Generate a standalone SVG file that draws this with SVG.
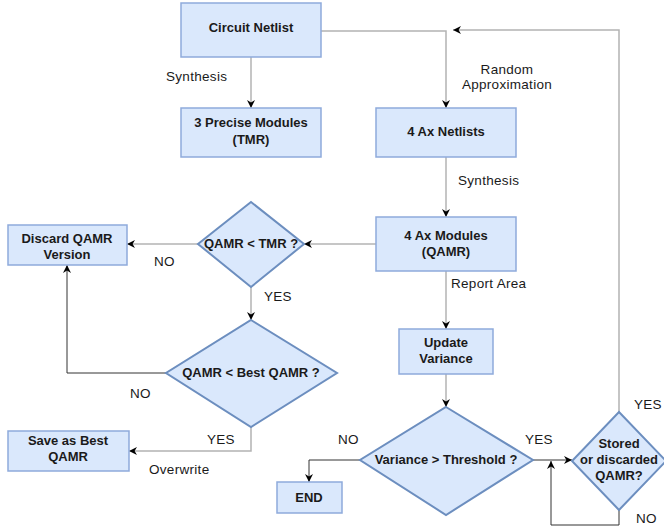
<svg xmlns="http://www.w3.org/2000/svg" width="664" height="527" viewBox="0 0 664 527">
<style>
.box{fill:#dae8fc;stroke:#8eaadb;stroke-width:1.5}
.dia{fill:#dae8fc;stroke:#6c8ebf;stroke-width:2}
.t{font-family:"Liberation Sans",Arial,sans-serif;font-size:13px;font-weight:bold;fill:#1a1a1a;text-anchor:middle}
.l{font-family:"Liberation Sans",Arial,sans-serif;font-size:13.5px;letter-spacing:0.3px;fill:#1a1a1a}
.g{fill:none;stroke:#b3b3b3;stroke-width:1.5}
.k{fill:none;stroke:#333;stroke-width:1}
</style>
<defs>
<marker id="a" viewBox="0 0 10 10" refX="10" refY="5" markerWidth="8" markerHeight="8" markerUnits="userSpaceOnUse" orient="auto">
<path d="M0,0 L10,5 L0,10 L3,5 z" fill="#000"/>
</marker>
</defs>
<rect width="664" height="527" fill="#fff"/>
<g id="connectors">
<path class="g" d="M251,57 V108" marker-end="url(#a)"/>
<path class="g" d="M321,31 H446 V108" marker-end="url(#a)"/>
<path class="g" d="M446,157 V217" marker-end="url(#a)"/>
<path class="g" d="M376,244 H304" marker-end="url(#a)"/>
<path class="g" d="M198,244 H127" marker-end="url(#a)"/>
<path class="g" d="M251,287 V320" marker-end="url(#a)"/>
<path class="k" d="M166,373 H67 V265" marker-end="url(#a)"/>
<path class="g" d="M251,427 V451 H129" marker-end="url(#a)"/>
<path class="g" d="M446,271 V329" marker-end="url(#a)"/>
<path class="g" d="M446,374 V407" marker-end="url(#a)"/>
<path class="k" d="M360,460 H309 V482" marker-end="url(#a)"/>
<path class="k" d="M533,460 H572" marker-end="url(#a)"/>
<path class="g" d="M619,412 V30 H453" marker-end="url(#a)"/>
<path class="k" d="M619,510 V525 H551 V461" marker-end="url(#a)"/>
</g>
<g id="labels">
<text class="l" x="166" y="81">Synthesis</text>
<text class="l" x="507" y="74" text-anchor="middle">Random</text>
<text class="l" x="507" y="89" text-anchor="middle">Approximation</text>
<text class="l" x="458" y="185">Synthesis</text>
<text class="l" x="451" y="288">Report Area</text>
<text class="l" x="154" y="266">NO</text>
<text class="l" x="264" y="301">YES</text>
<text class="l" x="130" y="398">NO</text>
<text class="l" x="207" y="444">YES</text>
<text class="l" x="149" y="474">Overwrite</text>
<text class="l" x="338" y="444">NO</text>
<text class="l" x="525" y="444">YES</text>
<text class="l" x="634" y="409">YES</text>
<text class="l" x="636" y="523">NO</text>
</g>
<g id="circuit-netlist">
<rect class="box" x="181" y="3" width="140" height="54"/>
<text class="t" x="251" y="32">Circuit Netlist</text>
</g>
<g id="precise-modules">
<rect class="box" x="181" y="108" width="140" height="49"/>
<text class="t" x="251" y="127">3 Precise Modules</text>
<text class="t" x="251" y="144">(TMR)</text>
</g>
<g id="ax-netlists">
<rect class="box" x="376" y="108" width="140" height="49"/>
<text class="t" x="446" y="136">4 Ax Netlists</text>
</g>
<g id="ax-modules">
<rect class="box" x="376" y="217" width="140" height="54"/>
<text class="t" x="446" y="240">4 Ax Modules</text>
<text class="t" x="446" y="256">(QAMR)</text>
</g>
<g id="qamr-tmr">
<polygon class="dia" points="251,202 304,244 251,287 198,244"/>
<text class="t" x="251" y="248">QAMR &lt; TMR ?</text>
</g>
<g id="discard">
<rect class="box" x="8" y="225" width="119" height="40"/>
<text class="t" x="67" y="243">Discard QAMR</text>
<text class="t" x="67" y="259">Version</text>
</g>
<g id="qamr-best">
<polygon class="dia" points="251,320 337,373 251,427 166,373"/>
<text class="t" x="251" y="377">QAMR &lt; Best QAMR ?</text>
</g>
<g id="save-best">
<rect class="box" x="8" y="431" width="121" height="40"/>
<text class="t" x="68" y="445">Save as Best</text>
<text class="t" x="68" y="461">QAMR</text>
</g>
<g id="update-variance">
<rect class="box" x="399" y="329" width="94" height="45"/>
<text class="t" x="446" y="347">Update</text>
<text class="t" x="446" y="363">Variance</text>
</g>
<g id="variance-threshold">
<polygon class="dia" points="446,407 533,460 446,515 360,460"/>
<text class="t" x="446" y="464">Variance &gt; Threshold ?</text>
</g>
<g id="end">
<rect class="box" x="277" y="482" width="65" height="31"/>
<text class="t" x="309" y="502">END</text>
</g>
<g id="stored-discarded">
<polygon class="dia" points="619,412 666,461 619,510 572,461"/>
<text class="t" x="619" y="448">Stored</text>
<text class="t" x="619" y="464">or discarded</text>
<text class="t" x="619" y="480">QAMR?</text>
</g>
</svg>
